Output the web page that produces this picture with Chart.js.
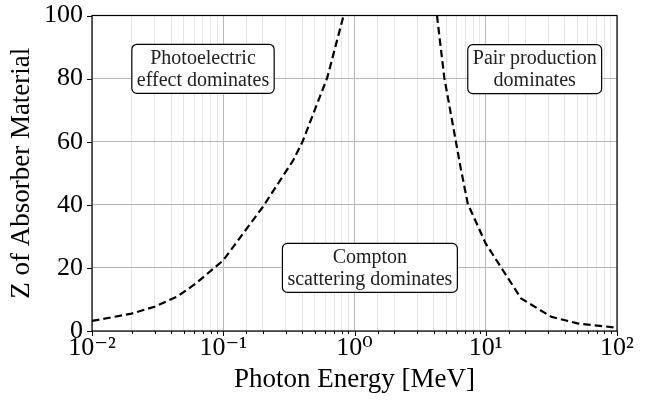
<!DOCTYPE html>
<html>
<head>
<meta charset="utf-8">
<script src="https://cdn.jsdelivr.net/npm/chart.js@4/dist/chart.umd.min.js"></script>
<style>
  html, body { margin: 0; padding: 0; background: #fff; }
  #wrap { width: 645px; height: 400px; }
</style>
</head>
<body>
<div id="wrap"><canvas id="chart"></canvas></div>
<script>
// photoelectric / compton boundary
const leftEnergy = [0.01, 0.02, 0.03, 0.045, 0.062, 0.1, 0.2, 0.34, 0.4, 0.62, 0.82];
const leftZ      = [3.2, 5.5, 7.7, 11, 15.1, 22.4, 39.3, 54, 59.8, 80.3, 99.5];
// compton / pair production boundary
const rightEnergy = [4.25, 4.83, 6.46, 7.3, 10, 18.6, 31.6, 50, 100];
const rightZ      = [100, 80.3, 51.4, 40.3, 27.7, 10.3, 4.5, 2.4, 1.05];

const xTickValues = [0.01, 0.1, 1, 10, 100];
const xTickLabels = ['10\u207B\u00B2', '10\u207B\u00B9', '10\u2070', '10\u00B9', '10\u00B2'];
const yTickValues = [0, 20, 40, 60, 80, 100];

const boxEnergy = [0.0701, 23.6, 1.31];
const boxZ      = [83.1, 83, 20];
const boxLines  = [
  ['Photoelectric', 'effect dominates'],
  ['Pair production', 'dominates'],
  ['Compton', 'scattering dominates']
];

const serif = "'Liberation Serif', 'DejaVu Serif', serif";

function isDecade(v) {
  const l = Math.log10(v);
  return Math.abs(l - Math.round(l)) < 1e-9;
}

function toPoints(xs, ys) {
  return xs.map((x, i) => ({ x: x, y: ys[i] }));
}

// outward tick marks, major and minor
const tickMarks = {
  id: 'tickMarks',
  afterDraw(chart) {
    const ctx = chart.ctx;
    const xs = chart.scales.x, ys = chart.scales.y;
    const area = chart.chartArea;
    ctx.save();
    ctx.strokeStyle = '#000';
    ctx.lineWidth = 1;
    xs.ticks.forEach(t => {
      const px = Math.round(xs.getPixelForValue(t.value)) + 0.5;
      const len = isDecade(t.value) ? 5 : 3;
      ctx.beginPath();
      ctx.moveTo(px, area.bottom);
      ctx.lineTo(px, area.bottom + len);
      ctx.stroke();
    });
    yTickValues.forEach(v => {
      const py = Math.round(ys.getPixelForValue(v)) + 0.5;
      ctx.beginPath();
      ctx.moveTo(area.left - 5, py);
      ctx.lineTo(area.left, py);
      ctx.stroke();
    });
    ctx.lineWidth = 1.2;
    ctx.strokeRect(area.left, area.top, area.right - area.left, area.bottom - area.top);
    ctx.restore();
  }
};

// rounded text boxes
const textBoxes = {
  id: 'textBoxes',
  afterDatasetsDraw(chart) {
    const ctx = chart.ctx;
    const xs = chart.scales.x, ys = chart.scales.y;
    ctx.save();
    ctx.font = '20px ' + serif;
    ctx.textAlign = 'center';
    ctx.textBaseline = 'middle';
    const lineH = 22;
    boxLines.forEach((lines, i) => {
      const cx = xs.getPixelForValue(boxEnergy[i]);
      const cy = ys.getPixelForValue(boxZ[i]);
      const w = Math.max(...lines.map(l => ctx.measureText(l).width)) + 10;
      const h = lines.length * lineH + 5;
      ctx.beginPath();
      ctx.roundRect(cx - w / 2, cy - h / 2, w, h, 5);
      ctx.fillStyle = '#fff';
      ctx.fill();
      ctx.strokeStyle = '#000';
      ctx.lineWidth = 1.2;
      ctx.stroke();
      ctx.fillStyle = '#222';
      lines.forEach((l, j) => {
        ctx.fillText(l, cx, cy + 1 + (j - (lines.length - 1) / 2) * lineH);
      });
    });
    ctx.restore();
  }
};

const lineStyle = {
  showLine: true,
  borderColor: '#000',
  borderWidth: 2.2,
  borderDash: [7.5, 4],
  pointRadius: 0,
  fill: false,
  tension: 0
};

new Chart(document.getElementById('chart'), {
  type: 'scatter',
  data: {
    datasets: [
      Object.assign({ label: 'photo', data: toPoints(leftEnergy, leftZ) }, lineStyle),
      Object.assign({ label: 'pair', data: toPoints(rightEnergy, rightZ) }, lineStyle)
    ]
  },
  options: {
    responsive: true,
    maintainAspectRatio: false,
    animation: false,
    layout: { padding: { top: 14, right: 28, bottom: 4, left: 6 } },
    plugins: {
      legend: { display: false },
      tooltip: { enabled: false }
    },
    scales: {
      x: {
        type: 'logarithmic',
        min: 0.01,
        max: 100,
        border: { display: false },
        grid: {
          drawTicks: false,
          color: ctx => isDecade(ctx.tick.value) ? '#b8b8b8' : '#e6e6e6',
          lineWidth: 1
        },
        ticks: {
          autoSkip: false,
          maxRotation: 0,
          padding: 2,
          color: '#000',
          font: { family: serif, size: 26 },
          callback: function (v) {
            const i = xTickValues.findIndex(t => Math.abs(t - v) / t < 1e-9);
            return i >= 0 ? xTickLabels[i] : '';
          }
        },
        title: {
          display: true,
          text: 'Photon Energy [MeV]',
          color: '#000',
          padding: { top: 0, bottom: 0 },
          font: { family: serif, size: 27 }
        },
        afterFit: s => { s.height = 65; }
      },
      y: {
        min: 0,
        max: 100,
        border: { display: false },
        grid: {
          drawTicks: false,
          color: '#b8b8b8',
          lineWidth: 1
        },
        ticks: {
          stepSize: 20,
          padding: 9,
          color: '#000',
          font: { family: serif, size: 26, lineHeight: 0.5 }
        },
        title: {
          display: true,
          text: 'Z of Absorber Material',
          color: '#000',
          padding: { top: 0, bottom: 2 },
          font: { family: serif, size: 27 }
        },
        afterFit: s => { s.width = 86; }
      }
    }
  },
  plugins: [textBoxes, tickMarks]
});
</script>
</body>
</html>
